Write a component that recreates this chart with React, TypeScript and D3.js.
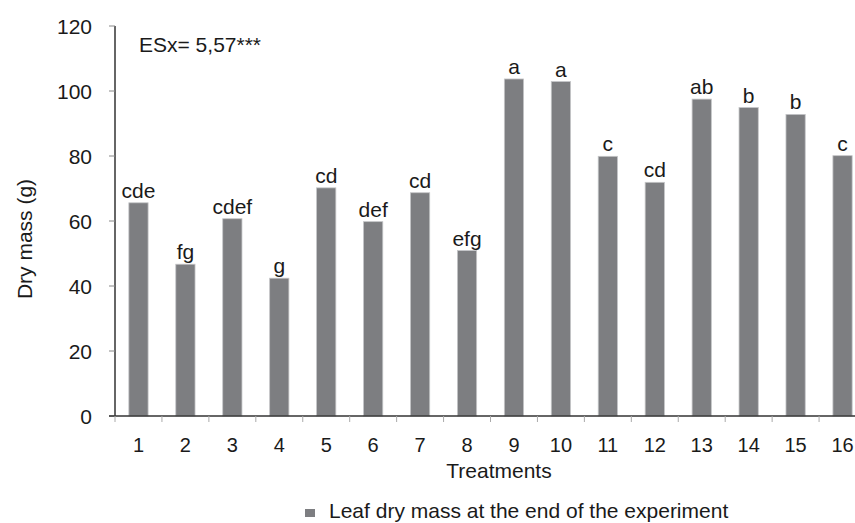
import React from 'react';
import * as d3 from 'd3';

const treatments = ['1', '2', '3', '4', '5', '6', '7', '8', '9', '10', '11', '12', '13', '14', '15', '16'];
const dryMass = [65.6, 46.7, 60.7, 42.4, 70.2, 59.8, 68.7, 50.9, 103.7, 102.9, 79.9, 71.9, 97.5, 94.9, 92.8, 80.1];
const letters = ['cde', 'fg', 'cdef', 'g', 'cd', 'def', 'cd', 'efg', 'a', 'a', 'c', 'cd', 'ab', 'b', 'b', 'c'];
const yTicks = [0, 20, 40, 60, 80, 100, 120];

const W = 855;
const H = 523;
const font = '"Liberation Sans", Arial, sans-serif';

const App: React.FC = () => {
    const x = d3.scaleBand<string>().domain(treatments).range([115, 866]).paddingInner(0.59).paddingOuter(0.295);
    const y = d3.scaleLinear().domain([0, 120]).range([416, 26]);
    const step = x.step();
    const x0 = x.range()[0];

    return (
        <div style={{ position: 'absolute', left: 0, top: 0 }}>
            <svg width={W} height={H} style={{ display: 'block', background: '#fff' }} fontFamily={font}>
                {/* bars */}
                {treatments.map((t, i) => (
                    <rect key={t} x={x(t)} y={y(dryMass[i])} width={x.bandwidth()} height={y(0) - y(dryMass[i])}
                        fill="#7d7e81" stroke="#c4c5c7" strokeWidth={0.8} />
                ))}
                {/* significance letters */}
                {treatments.map((t, i) => (
                    <text key={t} x={x(t)! + x.bandwidth() / 2} y={y(dryMass[i]) - 5} textAnchor="middle"
                        fontSize={21} fill="#1a1a1a">{letters[i]}</text>
                ))}
                {/* y axis */}
                <line x1={115} x2={115} y1={y(120)} y2={y(0)} stroke="#333" strokeWidth={1.5} />
                {yTicks.map(v => (
                    <g key={v}>
                        <line x1={109} x2={115} y1={y(v)} y2={y(v)} stroke="#888" strokeWidth={1} />
                        <text x={92} y={y(v) + 7.5} textAnchor="end" fontSize={21} fill="#1a1a1a">{v}</text>
                    </g>
                ))}
                {/* x axis */}
                <line x1={109} x2={W} y1={y(0)} y2={y(0)} stroke="#333" strokeWidth={1.5} />
                {d3.range(treatments.length + 1).map(k => (
                    <line key={k} x1={x0 + k * step} x2={x0 + k * step} y1={y(0)} y2={y(0) + 6} stroke="#aaa" strokeWidth={1} />
                ))}
                {treatments.map(t => (
                    <text key={t} x={x(t)! + x.bandwidth() / 2} y={452} textAnchor="middle" fontSize={20} fill="#1a1a1a">{t}</text>
                ))}
                <text x={499} y={478} textAnchor="middle" fontSize={21} fill="#1a1a1a">Treatments</text>
                <text transform="translate(32,239) rotate(-90)" textAnchor="middle" fontSize={21} fill="#1a1a1a">Dry mass (g)</text>
                <text x={139} y={52} fontSize={21} fill="#1a1a1a">ESx= 5,57***</text>
                {/* legend */}
                <rect x={305} y={509} width={10} height={8} fill="#7d7e81" />
                <text x={329} y={518} fontSize={21} fill="#1a1a1a">Leaf dry mass at the end of the experiment</text>
            </svg>
        </div>
    );
};

export default App;
